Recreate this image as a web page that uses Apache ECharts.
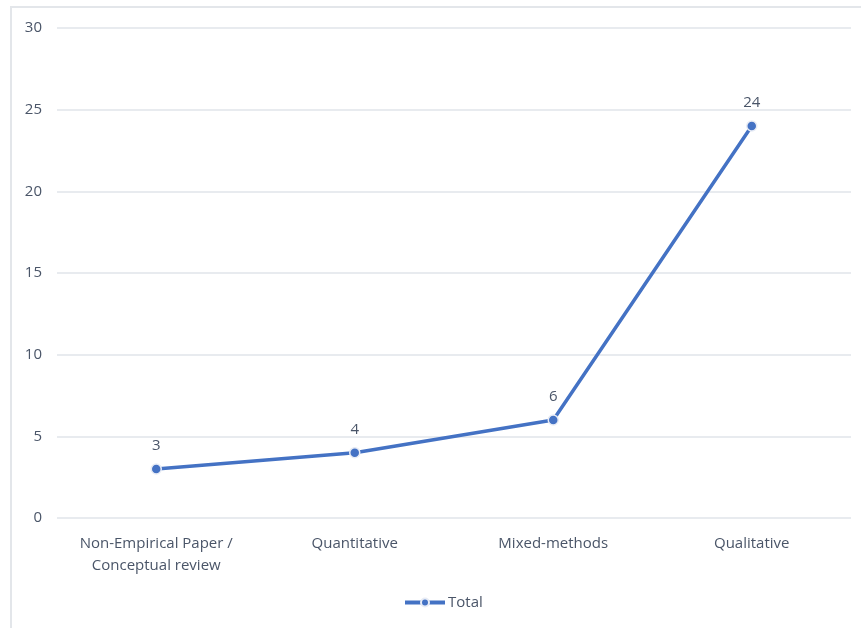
<!DOCTYPE html>
<html>
<head>
<meta charset="utf-8">
<script src="https://cdn.jsdelivr.net/npm/echarts@6/dist/echarts.min.js"></script>
<style>
  html, body { margin: 0; padding: 0; background: #fff; overflow: hidden; }
  #frame {
    position: absolute; left: 10px; top: 6px; width: 900px; height: 700px;
    border: 2px solid #e3e6ea; box-sizing: border-box;
  }
  #chart { position: absolute; left: 0; top: 0; width: 861px; height: 628px; }
</style>
</head>
<body>
<div id="frame"></div>
<div id="chart"></div>
<script>
// 数据
const categories = ['Non-Empirical Paper /\nConceptual review', 'Quantitative', 'Mixed-methods', 'Qualitative']
const totalValues = [3, 4, 6, 24]
const yTicks = { min: 0, max: 30, interval: 5 }

const textColor = '#4a5568'
const lineColor = '#4472c4'

const chart = echarts.init(document.getElementById('chart'))

const option = {
  animation: false,
  textStyle: { fontFamily: 'Open Sans, Lato, sans-serif' },
  grid: {
    left: 57,
    right: 10,
    top: 28,
    bottom: 110
  },
  legend: {
    bottom: 13,
    left: 398,
    itemWidth: 40,
    itemHeight: 10,
    itemGap: 4,
    textStyle: { color: textColor, fontSize: 15, padding: [0, 0, 0, -2] },
    lineStyle: { width: 4 },
    data: ['Total']
  },
  xAxis: {
    type: 'category',
    data: categories,
    axisLine: { show: false },
    axisTick: { show: false },
    axisLabel: {
      color: textColor,
      fontSize: 15,
      margin: 15,
      lineHeight: 22,
      interval: 0
    }
  },
  yAxis: {
    type: 'value',
    min: yTicks.min,
    max: yTicks.max,
    interval: yTicks.interval,
    axisLine: { show: false },
    axisTick: { show: false },
    axisLabel: { color: textColor, fontSize: 15, margin: 15 },
    splitLine: { lineStyle: { color: '#e1e5ea', width: 1.5 } }
  },
  series: [
    {
      name: 'Total',
      type: 'line',
      data: totalValues,
      symbol: 'circle',
      symbolSize: 10,
      lineStyle: { color: lineColor, width: 3.5 },
      itemStyle: { color: lineColor, borderColor: '#e8ecf5', borderWidth: 1.5 },
      label: {
        show: true,
        position: 'top',
        distance: 10,
        color: textColor,
        fontSize: 15
      }
    }
  ]
}

chart.setOption(option)
</script>
</body>
</html>
